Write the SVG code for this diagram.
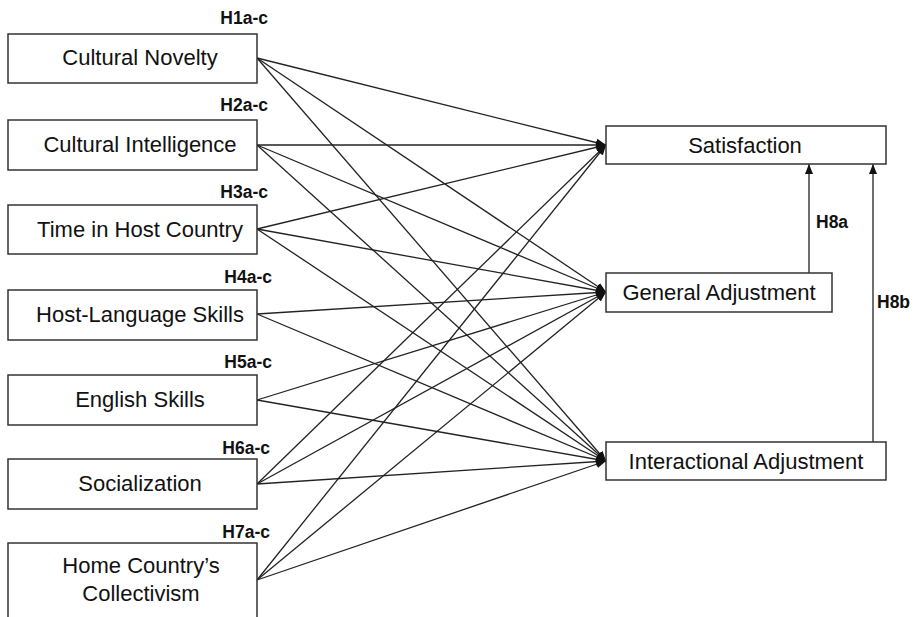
<svg xmlns="http://www.w3.org/2000/svg" width="919" height="617" viewBox="0 0 919 617">
<style>
.box{fill:#fff;stroke:#333;stroke-width:1.5}
.t{font-family:"Liberation Sans",Arial,sans-serif;font-size:22px;fill:#111;text-anchor:middle}
.h{font-family:"Liberation Sans",Arial,sans-serif;font-size:17.5px;font-weight:bold;fill:#111}
.e{stroke:#222;stroke-width:1.3;fill:none;marker-end:url(#ah)}
</style>
<defs>
<marker id="ah" markerUnits="userSpaceOnUse" markerWidth="11" markerHeight="9" refX="10" refY="4" orient="auto">
<path d="M0,0 L10,4 L0,8 z" fill="#111"/>
</marker>
</defs>
<rect width="919" height="617" fill="#fff"/>
<g id="connectors">
<line class="e" x1="257" y1="58" x2="606" y2="145"/>
<line class="e" x1="257" y1="58" x2="606" y2="292"/>
<line class="e" x1="257" y1="58" x2="606" y2="461"/>
<line class="e" x1="257" y1="145" x2="606" y2="145"/>
<line class="e" x1="257" y1="145" x2="606" y2="292"/>
<line class="e" x1="257" y1="145" x2="606" y2="461"/>
<line class="e" x1="257" y1="229" x2="606" y2="145"/>
<line class="e" x1="257" y1="229" x2="606" y2="292"/>
<line class="e" x1="257" y1="229" x2="606" y2="461"/>
<line class="e" x1="257" y1="314" x2="606" y2="292"/>
<line class="e" x1="257" y1="314" x2="606" y2="461"/>
<line class="e" x1="257" y1="400" x2="606" y2="292"/>
<line class="e" x1="257" y1="400" x2="606" y2="461"/>
<line class="e" x1="257" y1="484" x2="606" y2="145"/>
<line class="e" x1="257" y1="484" x2="606" y2="292"/>
<line class="e" x1="257" y1="484" x2="606" y2="461"/>
<line class="e" x1="257" y1="580" x2="606" y2="145"/>
<line class="e" x1="257" y1="580" x2="606" y2="292"/>
<line class="e" x1="257" y1="580" x2="606" y2="461"/>
<line class="e" x1="809" y1="273" x2="809" y2="164"/>
<line class="e" x1="873" y1="442" x2="873" y2="164"/>
<text class="h" x="816" y="228">H8a</text>
<text class="h" x="877" y="308">H8b</text>
</g>
<g id="n1"><rect class="box" x="8" y="34" width="249" height="49"/><text class="t" x="140" y="65">Cultural Novelty</text><text class="h" x="268" y="24" text-anchor="end">H1a-c</text></g>
<g id="n2"><rect class="box" x="8" y="120" width="249" height="50"/><text class="t" x="140" y="152">Cultural Intelligence</text><text class="h" x="268" y="111" text-anchor="end">H2a-c</text></g>
<g id="n3"><rect class="box" x="8" y="205" width="249" height="49"/><text class="t" x="140" y="237">Time in Host Country</text><text class="h" x="268" y="198" text-anchor="end">H3a-c</text></g>
<g id="n4"><rect class="box" x="8" y="290" width="249" height="50"/><text class="t" x="140" y="322">Host-Language Skills</text><text class="h" x="272" y="283" text-anchor="end">H4a-c</text></g>
<g id="n5"><rect class="box" x="8" y="375" width="249" height="50"/><text class="t" x="140" y="407">English Skills</text><text class="h" x="272" y="368" text-anchor="end">H5a-c</text></g>
<g id="n6"><rect class="box" x="8" y="459" width="249" height="50"/><text class="t" x="140" y="491">Socialization</text><text class="h" x="270" y="454" text-anchor="end">H6a-c</text></g>
<g id="n7"><rect class="box" x="8" y="543" width="249" height="84"/><text class="t" x="141" y="573">Home Country’s</text><text class="t" x="141" y="601">Collectivism</text><text class="h" x="270" y="538" text-anchor="end">H7a-c</text></g>
<g id="sat"><rect class="box" x="606" y="126" width="280" height="38"/><text class="t" x="745" y="153">Satisfaction</text></g>
<g id="ga"><rect class="box" x="606" y="273" width="226" height="39"/><text class="t" x="719" y="300">General Adjustment</text></g>
<g id="ia"><rect class="box" x="606" y="442" width="280" height="38"/><text class="t" x="746" y="469">Interactional Adjustment</text></g>
</svg>
